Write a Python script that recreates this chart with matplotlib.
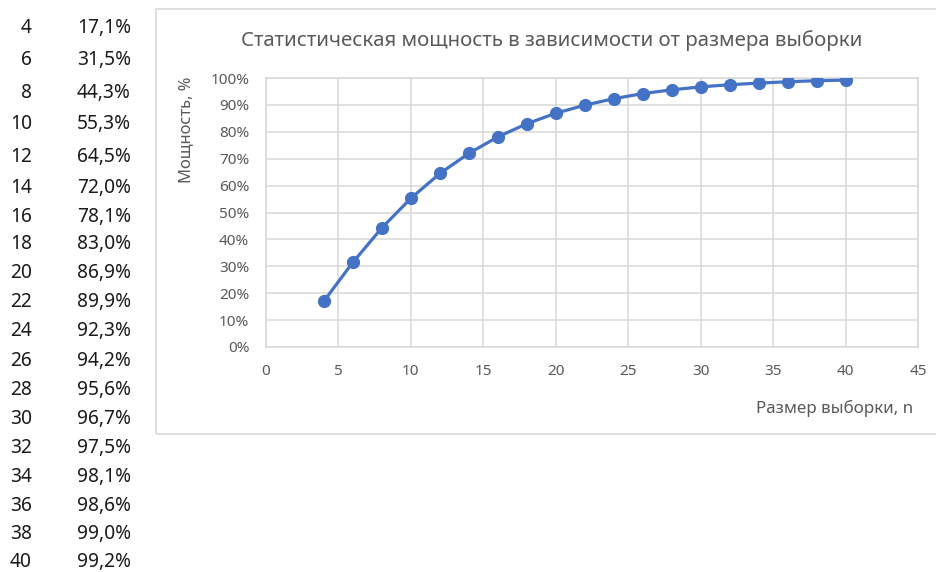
import matplotlib
matplotlib.use("Agg")
import matplotlib.pyplot as plt
from matplotlib.patches import Rectangle
from matplotlib.ticker import MultipleLocator, FuncFormatter

plt.rcParams['font.family'] = ['Noto Sans', 'DejaVu Sans']

# Sample size and statistical power (%)
sample_sizes = [4, 6, 8, 10, 12, 14, 16, 18, 20, 22, 24, 26, 28, 30, 32, 34, 36, 38, 40]
power_pct = [17.1, 31.5, 44.3, 55.3, 64.5, 72.0, 78.1, 83.0, 86.9, 89.9,
             92.3, 94.2, 95.6, 96.7, 97.5, 98.1, 98.6, 99.0, 99.2]

title = "Статистическая мощность в зависимости от размера выборки"
x_label = "Размер выборки, n"
y_label = "Мощность, %"

W, H = 937, 572
fig = plt.figure(figsize=(W / 100, H / 100), dpi=100)
fig.patch.set_facecolor("white")


def fx(px):
    return px / W


def fy(py):
    return 1 - py / H


# Table rows to the left of the chart
row_y = [28, 60, 93, 124, 157, 188, 217, 244, 273, 302, 331, 361,
         390, 419, 448, 477, 506, 534, 562]
for n, p, yy in zip(sample_sizes, power_pct, row_y):
    fig.text(fx(32), fy(yy), str(n), ha="right", va="center",
             fontsize=13.8, color="#1a1a1a")
    fig.text(fx(131), fy(yy), f"{p:.1f}%".replace(".", ","), ha="right",
             va="center", fontsize=13.8, color="#1a1a1a")

# Chart frame
fig.patches.append(Rectangle((fx(156), fy(434)), fx(940) - fx(156), fy(9) - fy(434),
                             transform=fig.transFigure, fill=False,
                             edgecolor="#D9D9D9", linewidth=1.2))

left, right, top, bottom = 266, 918, 78, 347
ax = fig.add_axes([fx(left), fy(bottom), fx(right - left), (bottom - top) / H])
ax.plot(sample_sizes, power_pct, color="#4472C4", linewidth=2.3,
        marker="o", markersize=8.5, markerfacecolor="#4472C4",
        markeredgecolor="#4472C4", zorder=3)

ax.set_xlim(0, 45)
ax.set_ylim(0, 100)
ax.xaxis.set_major_locator(MultipleLocator(5))
ax.yaxis.set_major_locator(MultipleLocator(10))
ax.yaxis.set_major_formatter(FuncFormatter(lambda v, _: f"{v:.0f}%"))
ax.grid(True, color="#D9D9D9", linewidth=1.1)
ax.set_axisbelow(True)
for s in ax.spines.values():
    s.set_color("#D9D9D9")
    s.set_linewidth(1.1)
ax.tick_params(length=0, labelsize=11, labelcolor="#595959")
ax.tick_params(axis="y", pad=12)
ax.tick_params(axis="x", pad=12)

fig.text(fx(552), fy(41), title, ha="center", va="center",
         fontsize=14.7, color="#595959")
fig.text(fx(913), fy(408), x_label, ha="right", va="center",
         fontsize=12.2, color="#595959")
fig.text(fx(186), fy(130), y_label, ha="center", va="center",
         rotation=90, fontsize=11.9, color="#595959")

fig.savefig("out.png", dpi=100, facecolor="white")
